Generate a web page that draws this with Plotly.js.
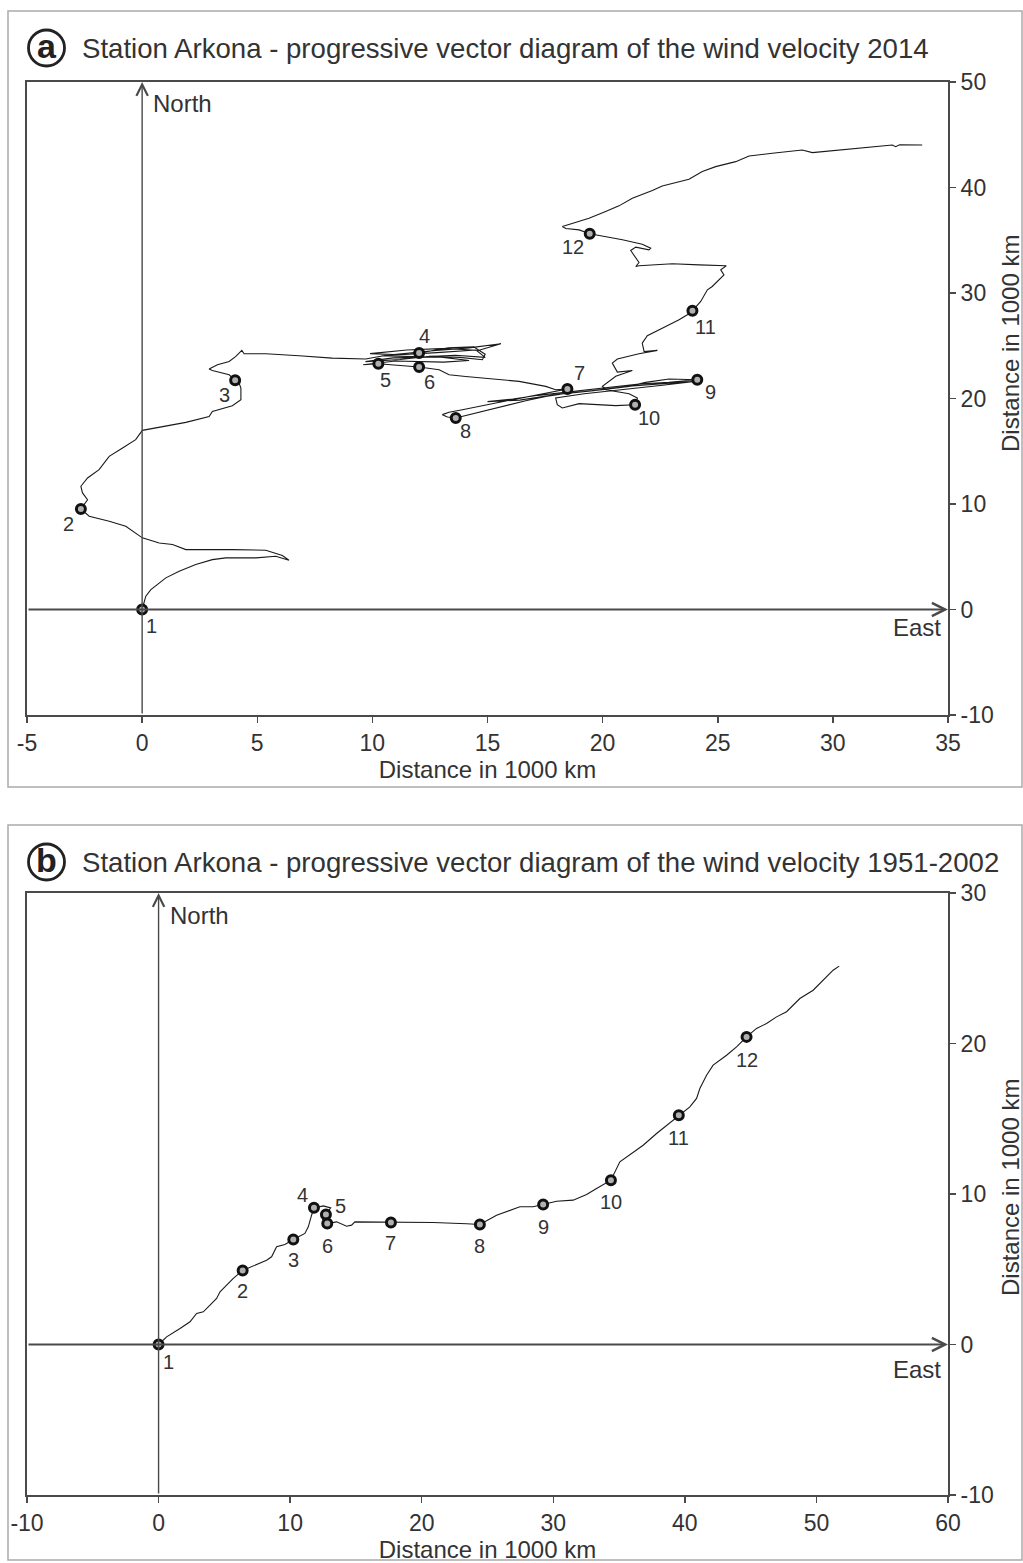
<!DOCTYPE html>
<html>
<head>
<meta charset="utf-8">
<script src="https://cdn.plot.ly/plotly-3.0.1.min.js"></script>
<style>
html,body{margin:0;padding:0;background:#fff;}
#chart{width:1023px;height:1563px;}
</style>
</head>
<body>
<div id="chart"></div>
<script>
// ---------- Panel (a): 2014 progressive vector path (1000 km) ----------
const pathA_x = [0,0.16,0.38,0.74,1.03,1.61,2.33,3.05,3.63,4.94,5.8,6.38,6.09,5.37,3.92,1.9,1.32,0.74,0.01,-0.71,-1.43,-2.30,-2.66,
  -2.37,-2.59,-2.66,-2.37,-1.87,-1.43,-0.85,-0.28,0.01,0.74,1.9,2.91,3.05,3.92,4.29,4.29,4.21,4.04,
  3.78,3.05,2.91,3.27,3.78,4.07,4.33,4.43,5.37,6.82,8.26,9.71,
  10.6,12.5,14.2,15.58,14.6,13.2,11.5,9.9,11.2,12.8,14.5,14.9,13.6,12.2,10.4,11.6,12.03,
  13.3,14.4,14.9,14.78,13.8,12.5,11.2,9.7,10.9,12.9,14.2,13.1,11.0,9.6,10.26,
  10.8,11.5,12.03,
  12.9,13.33,14.05,15.5,16.37,17.53,17.96,18.47,
  17.96,16.8,15.36,13.91,13.33,13.04,13.26,13.62,
  14.2,15.36,16.37,16.66,17.53,18.54,19.99,21.15,21.87,22.88,24.11,
  22.88,21.58,19.99,18.54,17.2,16.1,15.0,16.4,17.9,19.6,21.3,22.9,23.9,22.6,21.0,19.2,
  17.96,18.03,18.25,18.98,20.57,21.41,
  21.51,21.15,20.13,19.99,20.57,21.29,20.64,20.42,20.64,21.58,22.38,21.8,21.72,21.94,22.74,23.32,23.68,23.9,
  24.26,24.55,24.76,25.05,25.27,25.13,25.37,24.19,23.03,21.58,21.44,21.58,21.36,21.22,21.44,22.01,22.09,21.72,20.86,19.84,19.44,
  18.98,18.4,18.25,18.68,19.41,20.13,20.71,21.29,22.16,22.59,23.75,24.33,24.91,25.78,26.36,27.37,28.67,29.11,30.27,31.71,32.58,32.73,32.9,33.88];
const pathA_y = [0,1.26,1.89,2.52,3.0,3.63,4.26,4.73,4.89,4.89,5.05,4.67,5.11,5.62,5.68,5.68,6.16,6.31,6.79,7.89,8.36,8.84,9.53,
  10.4,11.05,11.68,12.47,13.26,14.52,15.31,16.1,16.98,17.3,17.74,18.3,18.78,19.32,19.89,20.99,21.46,21.72,
  22.25,22.66,22.79,23.2,23.51,23.99,24.56,24.24,24.24,24.05,23.83,23.74,
  24.1,24.5,24.8,25.19,24.55,24.75,24.6,24.25,24.15,24.35,24.6,23.9,24.1,23.95,24.05,24.2,24.31,
  24.8,24.9,24.2,23.67,23.9,24.0,23.7,23.5,23.85,23.95,23.6,23.45,23.55,23.2,23.3,
  23.2,23.1,22.98,
  22.73,22.25,22.09,21.84,21.62,21.15,20.83,20.9,
  20.67,20.2,19.57,18.94,18.69,18.47,18.25,18.15,
  18.47,19.1,19.63,19.79,20.2,20.52,20.83,21.15,21.53,21.85,21.78,
  21.53,21.37,20.99,20.58,20.3,19.95,19.7,19.85,20.35,20.75,21.2,21.45,21.6,21.25,20.85,20.45,
  20.05,19.41,19.1,19.51,19.32,19.41,
  20.05,20.45,20.83,21.15,22.1,22.66,22.5,23.36,23.74,24.24,24.56,24.46,25.25,25.95,26.83,27.46,27.94,28.31,
  29.2,30.3,30.62,31.25,31.72,32.2,32.58,32.67,32.77,32.58,32.51,32.89,33.62,34.03,34.35,34.09,34.25,34.63,35.04,35.42,35.61,
  35.98,36.11,36.3,36.62,37.09,37.72,38.26,38.99,39.71,40.15,40.78,41.51,41.98,42.45,42.99,43.25,43.56,43.31,43.56,43.87,44.03,43.87,44.05,44.03];
// monthly markers (panel a)
const monthA_x = [0,-2.66,4.04,12.03,10.26,12.03,18.47,13.62,24.11,21.41,23.9,19.44];
const monthA_y = [0,9.53,21.72,24.31,23.3,22.98,20.9,18.15,21.78,19.41,28.31,35.61];

// ---------- Panel (b): 1951-2002 progressive vector path (1000 km) ----------
const pathB_x = [0,0.61,1.63,2.39,2.89,3.4,3.91,4.41,4.67,5.17,5.68,6.39,7.2,8.21,8.59,8.97,9.6,10.24,11.12,11.38,11.63,11.81,
  12.52,13.08,12.72,12.47,12.82,13.53,14.29,14.67,14.92,16.31,17.66,20.87,23.41,24.42,25.69,26.7,27.46,28.47,29.23,
  30.25,31.51,32.53,33.29,34.38,35.06,35.57,36.83,37.85,38.61,39.54,40.38,40.89,41.14,41.65,42.15,43.17,43.93,44.69,
  45.45,46.21,46.97,47.73,48.74,49.75,50.51,51.27,51.73];
const pathB_y = [0,0.51,1.06,1.51,2.06,2.17,2.61,3.06,3.5,3.94,4.39,4.92,5.23,5.6,5.83,6.49,6.64,6.98,7.38,7.82,8.59,9.08,
  9.21,9.08,8.64,8.33,8.04,8.15,7.86,7.93,8.15,8.15,8.11,8.11,8.02,7.97,8.59,8.92,9.15,9.15,9.3,
  9.52,9.59,9.97,10.37,10.92,12.14,12.47,13.24,14.02,14.57,15.24,15.79,16.35,17.01,17.89,18.56,19.22,19.78,20.44,
  21.0,21.33,21.77,22.11,22.99,23.54,24.21,24.87,25.14];
const monthB_x = [0,6.39,10.24,11.81,12.72,12.82,17.66,24.42,29.23,34.38,39.54,44.69];
const monthB_y = [0,4.92,6.98,9.08,8.64,8.04,8.11,7.97,9.3,10.92,15.24,20.44];

const monthLabels = ['1','2','3','4','5','6','7','8','9','10','11','12'];
const ticksA_x = [-5,0,5,10,15,20,25,30,35];
const ticksA_y = [-10,0,10,20,30,40,50];
const ticksB_x = [-10,0,10,20,30,40,50,60];
const ticksB_y = [-10,0,10,20,30];

const titleA = 'Station Arkona - progressive vector diagram of the wind velocity 2014';
const titleB = 'Station Arkona - progressive vector diagram of the wind velocity 1951-2002';
const axisTitle = 'Distance in 1000 km';

// label offsets (px) — styling only
const offA = [[9,-16],[-12,-15],[-11,-15],[5,17],[7,-16],[10,-15],[12,16],[10,-13],[13,-12],[14,-13],[13,-16],[-17,-13]];
const offB = [[10,-17],[0,-21],[0,-21],[-11,13],[15,8],[0,-22],[0,-21],[0,-21],[0,-22],[0,-22],[0,-23],[0,-23]];

const W = 1023, H = 1563;
const px = v => v / W;
const py = v => 1 - v / H;
const FONT = 'Liberation Sans, Arial, sans-serif';
const TXT = '#333';
const AX = '#4a4a4a';

const markerStyle = {size: 9, color: '#b0b0b0', line: {color: '#111', width: 3}};

const traces = [
  {x: pathA_x, y: pathA_y, xaxis: 'x', yaxis: 'y', mode: 'lines', line: {color: '#1a1a1a', width: 1.1}, hoverinfo: 'skip'},
  {x: monthA_x, y: monthA_y, xaxis: 'x', yaxis: 'y', mode: 'markers', marker: markerStyle, cliponaxis: false},
  {x: pathB_x, y: pathB_y, xaxis: 'x2', yaxis: 'y2', mode: 'lines', line: {color: '#1a1a1a', width: 1.1}, hoverinfo: 'skip'},
  {x: monthB_x, y: monthB_y, xaxis: 'x2', yaxis: 'y2', mode: 'markers', marker: markerStyle, cliponaxis: false}
];

function axisBase(extra) {
  return Object.assign({
    showline: true, linecolor: AX, linewidth: 2, mirror: true,
    ticks: 'outside', ticklen: 6, tickwidth: 1.5, tickcolor: AX,
    showgrid: false, zeroline: false,
    tickfont: {size: 23, color: TXT, family: FONT},
    fixedrange: true
  }, extra);
}

const domX = [px(27), px(948)];
const layout = {
  width: W, height: H,
  margin: {l: 0, r: 0, t: 0, b: 0},
  paper_bgcolor: '#fff', plot_bgcolor: '#fff',
  showlegend: false,
  font: {family: FONT, color: TXT},
  xaxis: axisBase({domain: domX, range: [-5, 35], anchor: 'y', tickvals: ticksA_x, ticktext: ticksA_x.map(String),
    title: {text: axisTitle, font: {size: 24, color: TXT}, standoff: 2}}),
  yaxis: axisBase({domain: [py(715), py(82)], range: [-10, 50], anchor: 'x', side: 'right', tickvals: ticksA_y, ticktext: ticksA_y.map(String)}),
  xaxis2: axisBase({domain: domX, range: [-10, 60], anchor: 'y2', tickvals: ticksB_x, ticktext: ticksB_x.map(String),
    title: {text: axisTitle, font: {size: 24, color: TXT}, standoff: 2}}),
  yaxis2: axisBase({domain: [py(1495), py(893)], range: [-10, 30], anchor: 'x2', side: 'right', tickvals: ticksB_y, ticktext: ticksB_y.map(String)}),
  shapes: [
    {type: 'rect', xref: 'paper', yref: 'paper', x0: px(8), x1: px(1022), y0: py(787), y1: py(11), line: {color: '#aaa', width: 1.5}},
    {type: 'rect', xref: 'paper', yref: 'paper', x0: px(8), x1: px(1022), y0: py(1560), y1: py(825), line: {color: '#aaa', width: 1.5}},
    {type: 'circle', xref: 'paper', yref: 'paper', x0: px(28.5), x1: px(64.5), y0: py(66), y1: py(30), line: {color: '#222', width: 2.8}},
    {type: 'circle', xref: 'paper', yref: 'paper', x0: px(28.5), x1: px(64.5), y0: py(880), y1: py(844), line: {color: '#222', width: 2.8}}
  ],
  annotations: []
};

const ann = layout.annotations;
// panel letters and titles
ann.push({xref: 'paper', yref: 'paper', x: px(46.5), y: py(46), text: '<b>a</b>', showarrow: false, xanchor: 'center', yanchor: 'middle', font: {size: 34, color: '#222'}});
ann.push({xref: 'paper', yref: 'paper', x: px(46.5), y: py(860), text: '<b>b</b>', showarrow: false, xanchor: 'center', yanchor: 'middle', font: {size: 34, color: '#222'}});
ann.push({xref: 'paper', yref: 'paper', x: px(80), y: py(49), text: titleA, showarrow: false, xanchor: 'left', yanchor: 'middle', font: {size: 27.6, color: TXT}});
ann.push({xref: 'paper', yref: 'paper', x: px(80), y: py(862), text: titleB, showarrow: false, xanchor: 'left', yanchor: 'middle', font: {size: 27.6, color: TXT}});
// right-side y titles
ann.push({xref: 'paper', yref: 'paper', x: px(1010), y: py(344), text: axisTitle, textangle: -90, showarrow: false, xanchor: 'center', yanchor: 'middle', font: {size: 24, color: TXT}});
ann.push({xref: 'paper', yref: 'paper', x: px(1010), y: py(1188), text: axisTitle, textangle: -90, showarrow: false, xanchor: 'center', yanchor: 'middle', font: {size: 24, color: TXT}});
// compass arrows
ann.push({xref: 'x', yref: 'y', axref: 'x', ayref: 'y', x: 35, y: 0, ax: -5, ay: 0, text: '', showarrow: true, arrowhead: 5, arrowsize: 1.3, arrowwidth: 2, arrowcolor: AX, standoff: 0, startstandoff: 0});
ann.push({xref: 'x', yref: 'y', axref: 'x', ayref: 'y', x: 0, y: 50, ax: 0, ay: -10, text: '', showarrow: true, arrowhead: 5, arrowsize: 1.6, arrowwidth: 1.4, arrowcolor: AX, standoff: 0, startstandoff: 0});
ann.push({xref: 'x2', yref: 'y2', axref: 'x2', ayref: 'y2', x: 60, y: 0, ax: -10, ay: 0, text: '', showarrow: true, arrowhead: 5, arrowsize: 1.3, arrowwidth: 2, arrowcolor: AX, standoff: 0, startstandoff: 0});
ann.push({xref: 'x2', yref: 'y2', axref: 'x2', ayref: 'y2', x: 0, y: 30, ax: 0, ay: -10, text: '', showarrow: true, arrowhead: 5, arrowsize: 1.6, arrowwidth: 1.4, arrowcolor: AX, standoff: 0, startstandoff: 0});
// compass labels
ann.push({xref: 'paper', yref: 'paper', x: px(151), y: py(104), text: 'North', showarrow: false, xanchor: 'left', yanchor: 'middle', font: {size: 24, color: TXT}});
ann.push({xref: 'paper', yref: 'paper', x: px(943), y: py(627), text: 'East', showarrow: false, xanchor: 'right', yanchor: 'middle', font: {size: 24, color: TXT}});
ann.push({xref: 'paper', yref: 'paper', x: px(168), y: py(915), text: 'North', showarrow: false, xanchor: 'left', yanchor: 'middle', font: {size: 24, color: TXT}});
ann.push({xref: 'paper', yref: 'paper', x: px(943), y: py(1369), text: 'East', showarrow: false, xanchor: 'right', yanchor: 'middle', font: {size: 24, color: TXT}});
// month labels
monthLabels.forEach((t, i) => {
  ann.push({xref: 'x', yref: 'y', x: monthA_x[i], y: monthA_y[i], text: t, showarrow: false, xshift: offA[i][0], yshift: offA[i][1], font: {size: 20, color: TXT}});
  ann.push({xref: 'x2', yref: 'y2', x: monthB_x[i], y: monthB_y[i], text: t, showarrow: false, xshift: offB[i][0], yshift: offB[i][1], font: {size: 20, color: TXT}});
});

Plotly.newPlot('chart', traces, layout, {displayModeBar: false, staticPlot: true});
</script>
</body>
</html>
